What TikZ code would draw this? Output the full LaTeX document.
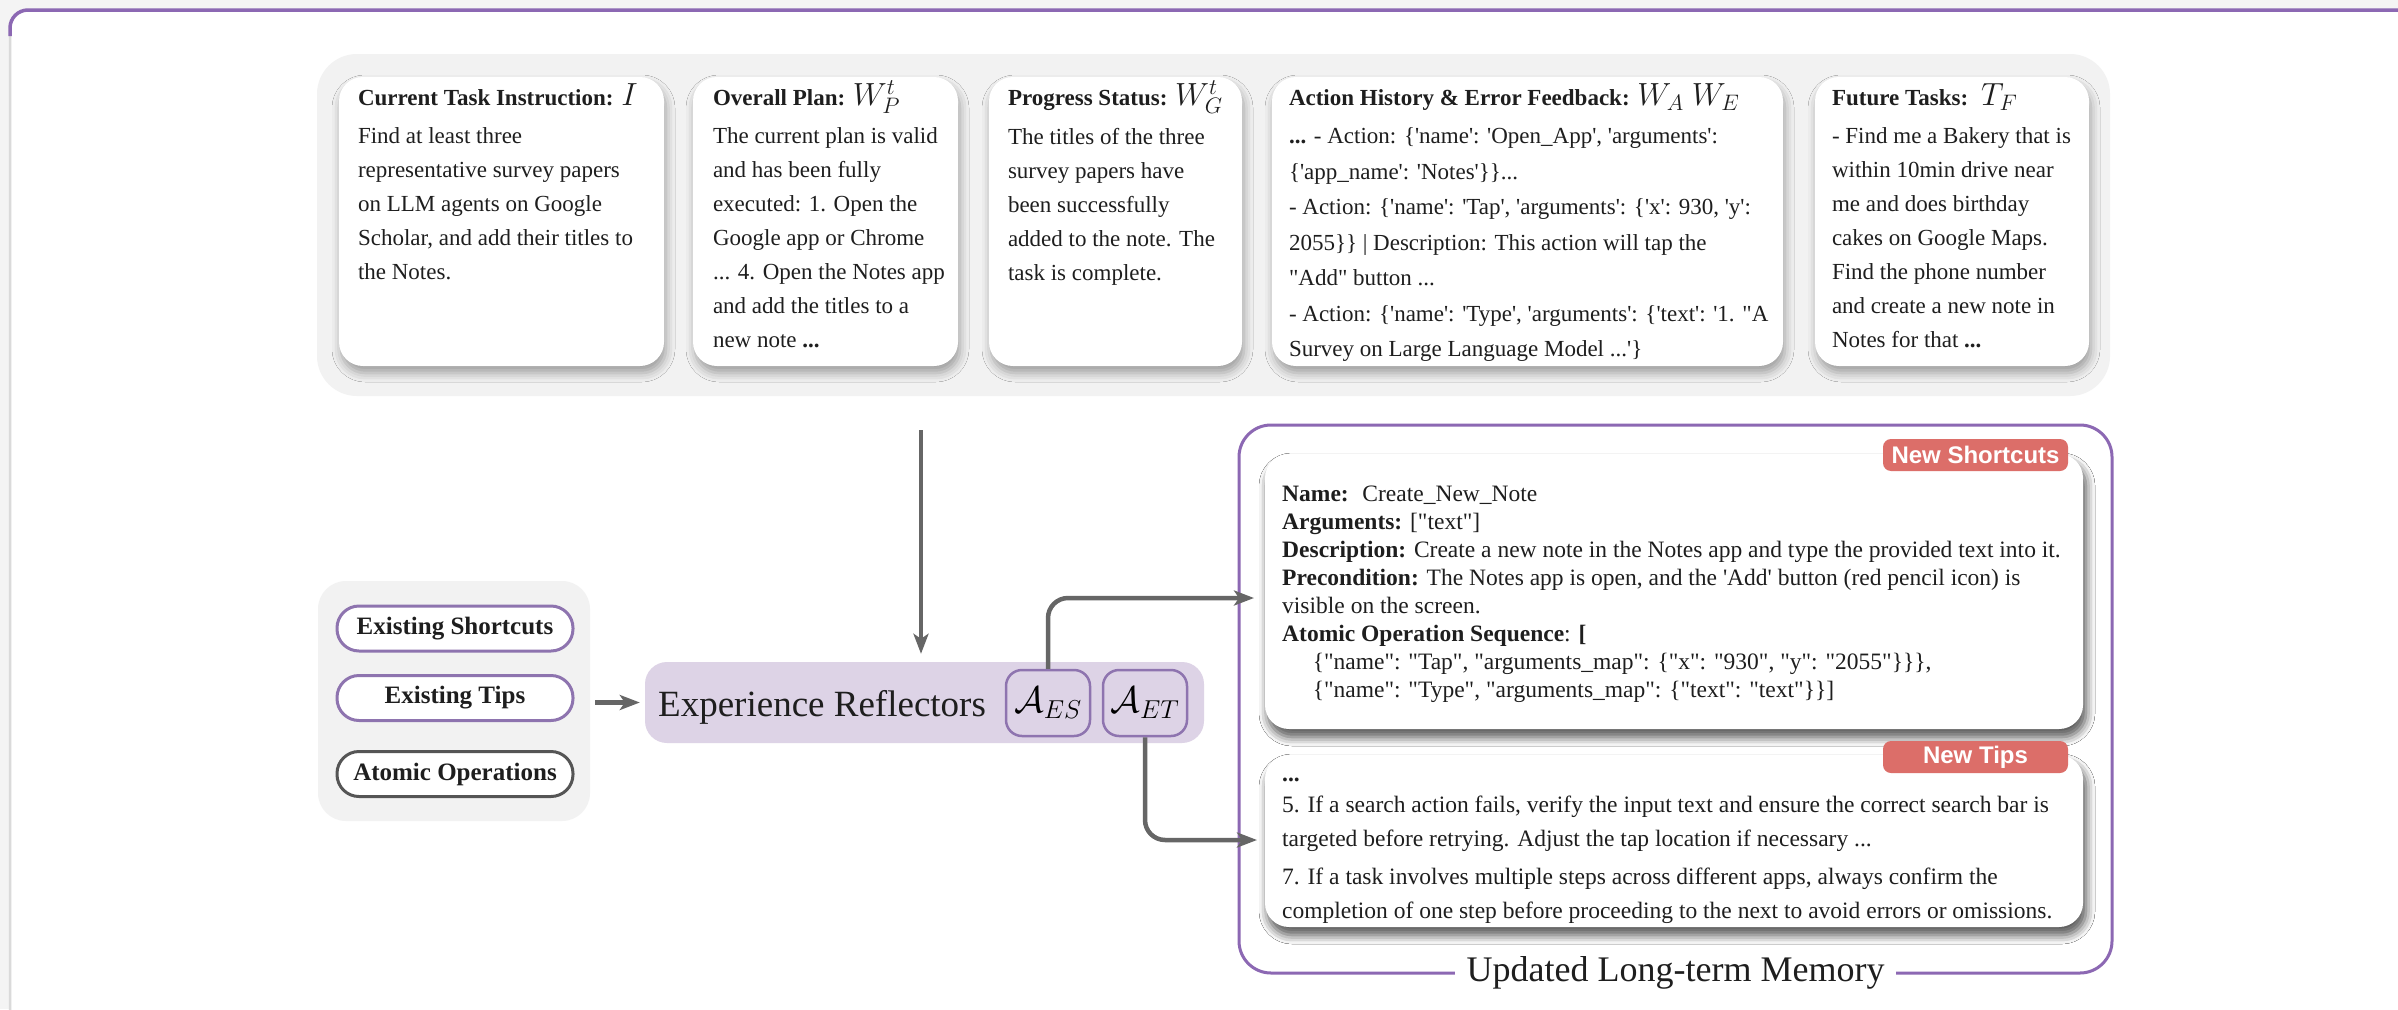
\RequirePackage{fix-cm}
\documentclass[tikz,border=0pt]{standalone}
\usepackage{fontspec}
\setmainfont{Liberation Serif}[Ligatures=TeXOff]
\newfontfamily\tagfont{Liberation Sans}
\usetikzlibrary{shadows.blur,arrows.meta,calc}

\definecolor{pagebg}{HTML}{F4F4F4}
\definecolor{framegray}{HTML}{DADADA}
\definecolor{framepurple}{HTML}{8C68B3}
\definecolor{panelgray}{HTML}{F2F2F2}
\definecolor{lavender}{HTML}{DDD3E6}
\definecolor{pillpurple}{HTML}{8E74AF}
\definecolor{pilldark}{HTML}{555555}
\definecolor{arrowgray}{HTML}{666666}
\definecolor{tagred}{HTML}{DC6E69}
\definecolor{txt}{HTML}{1E1E1E}

\newcommand\setfs[2]{\fontsize{#1}{#2}\selectfont}

\tikzset{
  panel/.style={fill=panelgray, rounded corners=40, inner sep=0},
  card/.style={fill=white, rounded corners=24, inner sep=0,
    blur shadow={shadow xshift=2pt, shadow yshift=-7pt, shadow blur radius=9pt, shadow opacity=35}},
  mcard/.style={fill=white, rounded corners=24, inner sep=0,
    blur shadow={shadow xshift=11pt, shadow yshift=10pt, shadow blur radius=4pt, shadow opacity=40},
    blur shadow={shadow xshift=3pt, shadow yshift=-8pt, shadow blur radius=9pt, shadow opacity=40}},
  hdr/.style={font=\setfs{23}{34}\bfseries, text=txt, inner sep=0, anchor=base west},
  body/.style={font=\setfs{23}{34}, text=txt, inner sep=0, anchor=north west, align=left},
  mbody/.style={font=\setfs{23.5}{28}, text=txt, inner sep=0, anchor=north west, align=left},
  pill/.style={fill=white, draw=pillpurple, line width=3, rounded corners=22,
    minimum width=236, minimum height=45, inner sep=0, font=\setfs{25}{25}\bfseries, text=txt},
  abox/.style={fill=lavender, draw=pillpurple, line width=2.5, rounded corners=16,
    minimum width=84, minimum height=66, inner sep=0, font=\setfs{37}{37}},
  tag/.style={fill=tagred, rounded corners=8, minimum width=185, minimum height=32,
    inner sep=0, font=\tagfont\bfseries\setfs{24}{24}, text=white},
  arr/.style={draw=arrowgray, line width=4.5, -{Stealth[length=20pt, width=15pt, inset=5pt]}},
}

\begin{document}
\begin{tikzpicture}[x=1pt, y=-1pt]
\clip (0,0) rectangle (2398,1009);
\fill[pagebg] (0,0) rectangle (2398,1009);

% outer frame
\fill[white, rounded corners=18] (10,10) rectangle (2440,1040);
\draw[framegray, line width=2.5, rounded corners=18] (10,1040) -- (10,10) -- (2440,10);
\draw[framepurple, line width=3.5, rounded corners=18] (10,36) -- (10,10) -- (2440,10);

% working context panel with its five cards
\node[panel, minimum width=1793, minimum height=342] (ctx) at (1213.5,225) {};
\node[card, minimum width=325, minimum height=289] (c1) at (501.5,221.5) {};
\node[card, minimum width=265, minimum height=289] (c2) at (825.5,221.5) {};
\node[card, minimum width=253, minimum height=289] (c3) at (1115.5,221.5) {};
\node[card, minimum width=511, minimum height=289] (c4) at (1527.5,221.5) {};
\node[card, minimum width=274, minimum height=289] (c5) at (1952,221.5) {};

\node[hdr] (c1h) at ($(c1.north west)+(19,29)$) {Current Task Instruction: {\setfs{32}{32}$I$}};
\node[body] (c1b) at ($(c1.north west)+(19,51)$) {Find at least three\\representative survey papers\\on LLM agents on Google\\Scholar, and add their titles to\\the Notes.};

\node[hdr] (c2h) at ($(c2.north west)+(20,29)$) {Overall Plan: {\setfs{32}{32}$W_P^t$}};
\node[body] (c2b) at ($(c2.north west)+(20,51)$) {The current plan is valid\\and has been fully\\executed: 1. Open the\\Google app or Chrome\\... 4. Open the Notes app\\and add the titles to a\\new note \textbf{...}};

\node[hdr] (c3h) at ($(c3.north west)+(19,29)$) {Progress Status: {\setfs{32}{32}$W_G^t$}};
\node[body] (c3b) at ($(c3.north west)+(19,51)$) {The titles of the three\\survey papers have\\been successfully\\added to the note. The\\task is complete.};

\node[hdr] (c4h) at ($(c4.north west)+(17,29)$) {Action History \& Error Feedback: {\setfs{32}{32}$W_A$ $W_E$}};
\node[body, font=\setfs{23}{35.5}] (c4b) at ($(c4.north west)+(17,51)$) {\textbf{...} - Action: \{'name': 'Open\_App', 'arguments':\\\{'app\_name': 'Notes'\}\}...\\- Action: \{'name': 'Tap', 'arguments': \{'x': 930, 'y':\\2055\}\} | Description: This action will tap the\\"Add" button ...\\- Action: \{'name': 'Type', 'arguments': \{'text': '1. "A\\Survey on Large Language Model ...'\}};

\node[hdr] (c5h) at ($(c5.north west)+(17,29)$) {Future Tasks: {\setfs{32}{32}$\,T_F$}};
\node[body] (c5b) at ($(c5.north west)+(17,51)$) {- Find me a Bakery that is\\within 10min drive near\\me and does birthday\\cakes on Google Maps.\\Find the phone number\\and create a new note in\\Notes for that \textbf{...}};

% existing memory
\node[panel, rounded corners=28, minimum width=272, minimum height=240] (mem) at (454,701) {};
\node[pill] (p1) at (455,628.5) {Existing Shortcuts};
\node[pill] (p2) at (455,698) {Existing Tips};
\node[pill, draw=pilldark] (p3) at (455,774) {Atomic Operations};

% experience reflectors
\node[fill=lavender, rounded corners=22, minimum width=559, minimum height=81, inner sep=0] (refl) at (924.5,702.5) {};
\node[font=\setfs{37}{37}, text=txt, inner sep=0, anchor=base west] (refll) at (658,716) {Experience Reflectors};
\node[abox] (aes) at (1048,703) {$\mathcal{A}_{ES}$};
\node[abox] (aet) at (1145,703) {$\mathcal{A}_{ET}$};

% updated long-term memory
\node[draw=framepurple, line width=3, rounded corners=32, minimum width=873, minimum height=548, inner sep=0] (memf) at (1675.5,699) {};
\node[mcard, minimum width=818, minimum height=275] (sc) at (1674,591.5) {};
\node[mcard, minimum width=818, minimum height=172] (tp) at (1674,841) {};
\node[tag] (sct) at (1975.5,455) {New Shortcuts};
\node[tag] (tpt) at (1975.5,757) {New Tips};

\node[mbody] (scb) at (1282,486) {\textbf{Name:}~ Create\_New\_Note\\\textbf{Arguments:} ["text"]\\\textbf{Description:} Create a new note in the Notes app and type the provided text into it.\\\textbf{Precondition:} The Notes app is open, and the 'Add' button (red pencil icon) is\\visible on the screen.\\\textbf{Atomic Operation Sequence}: \textbf{[}\\\hspace*{1.3em}\{"name": "Tap", "arguments\_map": \{"x": "930", "y": "2055"\}\}\},\\\hspace*{1.3em}\{"name": "Type", "arguments\_map": \{"text": "text"\}\}]};

\node[mbody, font=\setfs{23.5}{34}] (tpb) at (1282,778) {\textbf{...}\\[-3pt]5. If a search action fails, verify the input text and ensure the correct search bar is\\targeted before retrying. Adjust the tap location if necessary ...\\[4pt]7. If a task involves multiple steps across different apps, always confirm the\\completion of one step before proceeding to the next to avoid errors or omissions.};

\node[fill=white, inner xsep=12, inner ysep=2, font=\setfs{36}{36}, text=txt] (meml) at ($(memf.south)+(0,-2)$) {Updated Long-term Memory};

% connectors
\coordinate (dn) at (921,430);
\draw[arr, shorten >=8] (dn) -- (refl.north -| dn);
\draw[arr, shorten <=5, shorten >=5] (mem.east |- refl.west) -- (refl.west);
\coordinate (scin) at (1254,598);
\draw[arr, rounded corners=20] (aes.north) |- (scin);
\coordinate (tpin) at (1257,840);
\draw[arr, rounded corners=20] (aet.south) |- (tpin);
\end{tikzpicture}
\end{document}
